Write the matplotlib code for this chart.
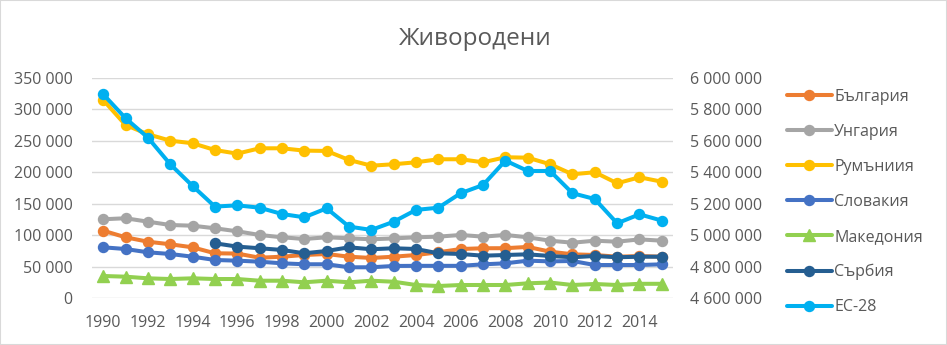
import numpy as np
import matplotlib
matplotlib.use("Agg")
import matplotlib.pyplot as plt
from matplotlib.ticker import FuncFormatter, MultipleLocator
from matplotlib.patches import Rectangle

plt.rcParams['font.family'] = ['Open Sans', 'DejaVu Sans']

years = list(range(1990, 2016))
bulgaria = [107300, 96800, 89800, 85700, 80900, 71400, 71000, 64400, 66000, 68700,
            70300, 66000, 64000, 66000, 68700, 73000, 78200, 79400, 79500, 81500,
            74000, 69800, 68700, 66000, 67000, 66000]
hungary = [125400, 127000, 121600, 116300, 115200, 111100, 106300, 100500, 96800, 94100,
           96800, 95200, 93600, 95000, 96800, 97800, 100500, 97800, 100500, 96800,
           91400, 88200, 91400, 89800, 93500, 91400]
romania = [314700, 275000, 260300, 250100, 246000, 235300, 229500, 238000, 238000, 234300,
           233800, 219500, 210400, 212700, 215800, 220600, 220600, 215800, 223800, 223100,
           212700, 196800, 200000, 182500, 192000, 185000]
slovakia = [80900, 78200, 73000, 70300, 66000, 60800, 59700, 58100, 55500, 54000,
            54000, 49200, 49200, 51300, 51500, 51500, 51500, 53900, 55500, 59700,
            58600, 59200, 52800, 52800, 52800, 53900]
macedonia = [35400, 34300, 31700, 30600, 31700, 30600, 30600, 27900, 27900, 25400,
             27900, 25400, 27900, 26300, 21100, 19500, 21100, 21100, 21100, 23800,
             25000, 21100, 22700, 21100, 23000, 23000]
serbia = [np.nan, np.nan, np.nan, np.nan, np.nan, 87300, 82000, 79400, 76700, 71400,
          75100, 80900, 77800, 79400, 78200, 71400, 70300, 67600, 68700, 69800,
          67100, 65100, 67100, 65100, 66000, 66000]
ec28 = [5895000, 5743000, 5620000, 5451000, 5313000, 5182000, 5190000, 5175000, 5135000, 5114000,
        5171000, 5055000, 5034000, 5086000, 5161000, 5175000, 5267000, 5319000, 5474000, 5408000,
        5408000, 5267000, 5230000, 5076000, 5133000, 5093000]

labels = ['България', 'Унгария', 'Румъниия', 'Словакия', 'Македония', 'Сърбия', 'ЕС-28']
colors = ['#ED7D31', '#A5A5A5', '#FFC000', '#4472C4', '#92D050', '#255E91', '#00B0F0']
primary = [bulgaria, hungary, romania, slovakia, macedonia, serbia]
markers = ['o', 'o', 'o', 'o', '^', 'o']

txt = '#595959'
fig = plt.figure(figsize=(9.47, 3.45), dpi=100)
ax = fig.add_axes([92/947, 1-298.3/345, (673-92)/947, (298.3-77.7)/345])
ax2 = ax.twinx()

lw = 2.9
ms = 7.2
handles = []
for vals, lab, col, mk in zip(primary, labels[:6], colors[:6], markers):
    h, = ax.plot(years, vals, color=col, lw=lw, marker=mk, ms=ms if mk == 'o' else ms+0.8,
                 label=lab, solid_capstyle='round', solid_joinstyle='round')
    handles.append(h)
h, = ax2.plot(years, ec28, color=colors[6], lw=lw, marker='o', ms=ms, label=labels[6],
              solid_capstyle='round', solid_joinstyle='round')
handles.append(h)

ax.set_xlim(1989.5, 2015.5)
ax.set_ylim(0, 350000)
ax2.set_ylim(4600000, 6000000)
ax.yaxis.set_major_locator(MultipleLocator(50000))
ax2.yaxis.set_major_locator(MultipleLocator(200000))

def fmt(v, p):
    return f"{int(round(v)):,}".replace(',', ' ')
ax.yaxis.set_major_formatter(FuncFormatter(fmt))
ax2.yaxis.set_major_formatter(FuncFormatter(fmt))
ax.set_xticks(years[::2])
ax.set_xticklabels([str(y) for y in years[::2]])

ax.grid(axis='y', color='#D9D9D9', lw=1.0)
ax.set_axisbelow(True)
for a in (ax, ax2):
    for s in a.spines.values():
        s.set_visible(False)
    a.tick_params(length=0, labelsize=11.5, labelcolor=txt)
ax.tick_params(axis='y', pad=14)
ax2.tick_params(axis='y', pad=12)
ax.tick_params(axis='x', pad=12)

fig.text(475/947, 1-39/345, 'Живородени', ha='center', va='center', fontsize=17.5, color=txt)

fig.legend(handles=handles, labels=labels, loc='upper left', bbox_to_anchor=(787/947, 1-89/345),
           frameon=False, fontsize=11.5, labelcolor=txt, handlelength=2.8, handletextpad=0.15,
           labelspacing=1.19, borderpad=0, borderaxespad=0)

fig.patches.append(Rectangle((0, 0), 1, 1, transform=fig.transFigure, fill=False,
                             edgecolor='#D9D9D9', lw=1.5))
fig.savefig('out.png', dpi=100)
